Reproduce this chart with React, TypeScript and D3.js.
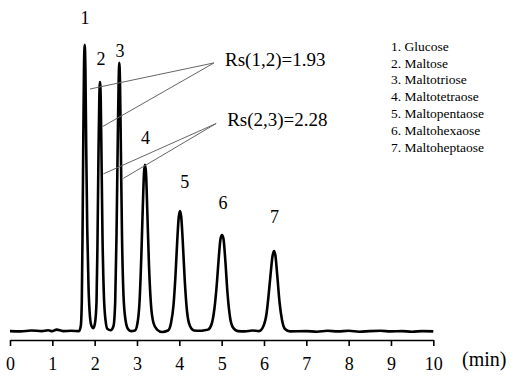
import React, { useEffect, useRef } from 'react';
import * as d3 from 'd3';

// detector trace: [time (min), signal]
const baselineStart: [number, number][] = [
  [0, 0.3], [0.25, 0.2], [0.5, 0.5], [0.75, 0.3], [0.9, 0.6], [1.0, 0.3],
  [1.1, 0.8], [1.25, 0.3], [1.45, 0.4], [1.63, 0.3],
];
const peak1: [number, number][] = [
  [1.672, 2], [1.696, 10], [1.715, 35], [1.732, 65], [1.748, 88], [1.765, 95.7],
  [1.781, 88], [1.8, 62], [1.824, 35], [1.855, 15], [1.89, 5], [1.926, 2], [1.968, 1.3],
];
const peak2: [number, number][] = [
  [2.008, 3], [2.044, 10], [2.067, 30], [2.091, 60], [2.11, 78], [2.126, 83.3],
  [2.143, 78], [2.162, 58], [2.185, 32], [2.216, 13], [2.256, 4], [2.303, 1], [2.379, 0.6],
];
const peak3: [number, number][] = [
  [2.445, 2], [2.485, 10], [2.516, 32], [2.544, 62], [2.566, 83], [2.582, 89.7],
  [2.599, 83], [2.62, 60], [2.646, 32], [2.682, 12], [2.729, 4], [2.788, 1], [2.858, 0.3],
];
const peak4: [number, number][] = [
  [2.953, 0.5], [3.012, 3], [3.06, 10], [3.102, 25], [3.138, 42], [3.166, 53], [3.189, 55.7],
  [3.213, 53], [3.244, 40], [3.284, 22], [3.331, 9], [3.39, 3], [3.473, 0.8], [3.591, 0],
];
const peak5: [number, number][] = [
  [3.733, 0.5], [3.804, 3], [3.863, 9], [3.91, 19], [3.953, 31], [3.988, 38.5], [4.016, 40.3],
  [4.044, 38.5], [4.082, 30], [4.129, 17], [4.181, 7], [4.252, 2], [4.347, 0.5],
  [4.489, 0.4], [4.607, 0.6],
];
const peak6: [number, number][] = [
  [4.678, 0.8], [4.76, 2.5], [4.831, 8], [4.886, 16], [4.933, 25], [4.973, 31], [5.008, 32.3],
  [5.044, 31], [5.086, 24], [5.138, 13], [5.197, 5], [5.268, 1.5], [5.386, 0.3],
  [5.55, 0.2], [5.72, 0.5],
];
const peak7: [number, number][] = [
  [5.882, 0.3], [5.988, 2], [6.059, 6], [6.114, 13], [6.161, 20], [6.204, 25.5], [6.237, 27],
  [6.27, 25.5], [6.313, 19], [6.367, 10], [6.426, 4], [6.497, 1], [6.615, 0.2],
];
const baselineEnd: [number, number][] = [
  [7.0, 0.3], [7.25, 0.1], [7.5, 0.4], [7.75, 0.2], [8.0, 0.4], [8.25, 0.1], [8.5, 0.3],
  [8.75, 0.4], [9.0, 0.2], [9.25, 0.3], [9.5, 0.1], [9.75, 0.3], [10.0, 0.2],
];

const peakNames = ['1', '2', '3', '4', '5', '6', '7'];
const peakLabelTimes = [1.772, 2.15, 2.6, 3.2, 4.13, 5.03, 6.25];
const peakLabelSignals = [104.7, 91, 93.8, 64.7, 50, 43, 38.5];

const compounds = [
  '1. Glucose', '2. Maltose', '3. Maltotriose', '4. Maltotetraose',
  '5. Maltopentaose', '6. Maltohexaose', '7. Maltoheptaose',
];

const xTicks = [0, 1, 2, 3, 4, 5, 6, 7, 8, 9, 10];

// resolution callouts: label anchor and the two points on the peaks
const rsLabels = ['Rs(1,2)=1.93', 'Rs(2,3)=2.28'];
const rsApex: [number, number][] = [[4.82, 89.7], [4.87, 69.5]];
const rsTargets: [number, number][][] = [
  [[1.89, 81], [2.19, 68.5]],
  [[2.205, 52.7], [2.677, 51.2]],
];

const Chromatogram: React.FC = () => {
  const svgRef = useRef<SVGSVGElement>(null);

  useEffect(() => {
    if (!svgRef.current) return;
    const svg = d3.select(svgRef.current);
    svg.selectAll('*').remove();

    const serif = '"Liberation Serif", "Times New Roman", serif';
    const x = d3.scaleLinear().domain([0, 10]).range([10, 433.3]);
    const y = d3.scaleLinear().domain([0, 100]).range([332, 32]);

    const trace = [
      ...baselineStart, ...peak1, ...peak2, ...peak3, ...peak4,
      ...peak5, ...peak6, ...peak7, ...baselineEnd,
    ];

    // axis
    const axisY = 340;
    const axis = d3.axisBottom(x).tickValues(xTicks).tickSize(6).tickSizeOuter(0)
      .tickFormat(d3.format('d'));
    const ax = svg.append('g').attr('transform', `translate(0, ${axisY})`).call(axis);
    ax.select('.domain').attr('stroke', '#000').attr('stroke-width', 1.6);
    ax.selectAll('.tick line').attr('stroke', '#000').attr('stroke-width', 1.6);
    ax.selectAll('.tick text')
      .attr('font-family', serif).attr('font-size', 18).attr('fill', '#000')
      .attr('dy', '0.71em').attr('y', 17);

    svg.append('text')
      .attr('x', 462).attr('y', 366)
      .attr('font-family', serif).attr('font-size', 20)
      .text('(min)');

    // trace
    const line = d3.line<[number, number]>()
      .x(d => x(d[0])).y(d => y(d[1]))
      .curve(d3.curveMonotoneX);
    svg.append('path')
      .datum(trace)
      .attr('fill', 'none').attr('stroke', '#000')
      .attr('stroke-width', 2.6).attr('stroke-linejoin', 'round')
      .attr('d', line);

    // peak numbers
    svg.selectAll('text.peak')
      .data(peakNames)
      .join('text')
      .attr('class', 'peak')
      .attr('x', (_, i) => x(peakLabelTimes[i]))
      .attr('y', (_, i) => y(peakLabelSignals[i]))
      .attr('text-anchor', 'middle').attr('dy', '0.35em')
      .attr('font-family', serif).attr('font-size', 18)
      .text(d => d);

    // Rs callouts
    rsLabels.forEach((lab, i) => {
      const [ax0, ay0] = rsApex[i];
      rsTargets[i].forEach(([tx, ty]) => {
        svg.append('line')
          .attr('x1', x(ax0)).attr('y1', y(ay0))
          .attr('x2', x(tx)).attr('y2', y(ty))
          .attr('stroke', '#666').attr('stroke-width', 1);
      });
      svg.append('text')
        .attr('x', x(ax0) + 11).attr('y', y(ay0) - 4)
        .attr('dy', '0.35em')
        .attr('font-family', serif).attr('font-size', 19)
        .text(lab);
    });

    // legend
    svg.append('g')
      .selectAll('text')
      .data(compounds)
      .join('text')
      .attr('x', 391)
      .attr('y', (_, i) => 46 + i * 16.8)
      .attr('dy', '0.35em')
      .attr('font-family', serif).attr('font-size', 13.5)
      .text(d => d);
  }, []);

  return <svg ref={svgRef} width={527} height={385} style={{ display: 'block' }} />;
};

export default function App() {
  return (
    <div style={{ position: 'absolute', left: 0, top: 0, background: '#fff' }}>
      <Chromatogram />
    </div>
  );
}
